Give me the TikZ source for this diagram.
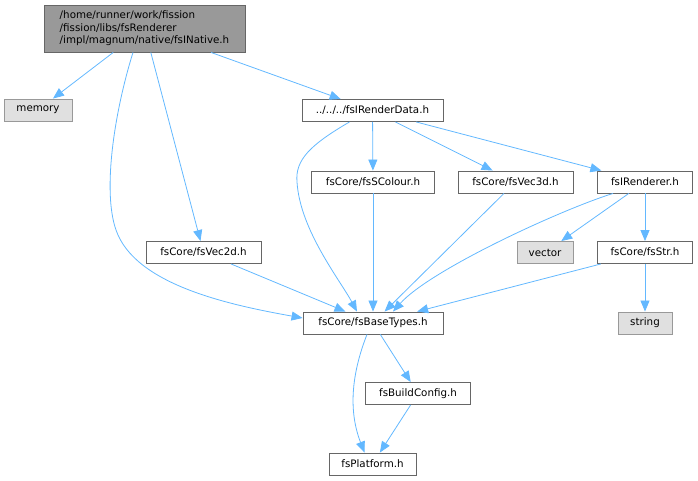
\documentclass[tikz,border=0pt]{standalone}
\usepackage{fontspec}
\setmainfont{DejaVu Sans}
\usepackage{tikz}
\usetikzlibrary{arrows.meta}
\definecolor{edgeblue}{HTML}{63B8FF}
\definecolor{boxgray}{HTML}{666666}
\definecolor{sysgray}{HTML}{999999}
\definecolor{sysfill}{HTML}{E0E0E0}

\begin{document}
\begin{tikzpicture}[x=1pt, y=-1pt,
    filebox/.style={draw=boxgray, fill=white, line width=0.9pt, minimum height=22pt, inner sep=0pt, font=\fontsize{10.3}{12.5}\selectfont},
    sysbox/.style={filebox, draw=sysgray, fill=sysfill},
    mainbox/.style={filebox, fill=sysgray, minimum height=47pt, align=left},
    incl/.style={draw=edgeblue, line width=0.8pt, -{Triangle[length=11pt,width=9pt]}}]
                \useasboundingbox (0,0) rectangle (698,481);

                % Top file
                \node[mainbox, minimum width=201pt] (native) at (144.5,28.5) {/home/runner/work/fission\\/fission/libs/fsRenderer\\/impl/magnum/native/fsINative.h};

                % Row 1
                \node[sysbox, minimum width=68pt] (memory) at (38,110) {memory};
                \node[filebox, minimum width=141pt] (rdata) at (372.5,110.5) {../../../fsIRenderData.h};

                % Row 2
                \node[filebox, minimum width=123pt] (scolour) at (373,182) {fsCore/fsSColour.h};
                \node[filebox, minimum width=115pt] (vecthree) at (515.5,182) {fsCore/fsVec3d.h};
                \node[filebox, minimum width=95pt] (irend) at (645,182) {fsIRenderer.h};

                % Row 3
                \node[filebox, minimum width=115pt] (vectwo) at (203.5,252.5) {fsCore/fsVec2d.h};
                \node[sysbox, minimum width=56pt] (vector) at (545,252.5) {vector};
                \node[filebox, minimum width=95pt] (fsstr) at (645,252.5) {fsCore/fsStr.h};

                % Row 4
                \node[filebox, minimum width=140pt] (basetypes) at (373,323) {fsCore/fsBaseTypes.h};
                \node[sysbox, minimum width=54pt] (string) at (645,323) {string};

                % Row 5 and 6
                \node[filebox, minimum width=105pt] (buildcfg) at (418,393.5) {fsBuildConfig.h};
                \node[filebox, minimum width=87pt] (platform) at (372.5,464) {fsPlatform.h};

                % Edges from the top file
                \draw[incl] (native) -- (memory);
                \draw[incl] (native) -- (vectwo);
                \draw[incl] (native) -- (rdata);
                \draw[incl] ([xshift=-11.5pt]native.south) .. controls (115,110) and (102,190) .. (116,230)
                    .. controls (135,285) and (230,305) .. ([yshift=5pt]basetypes.west);

                % Edges from fsIRenderData.h
                \draw[incl] ([xshift=-23pt]rdata.south) .. controls (310,145) and (295,160) .. (297,182)
                    .. controls (300,230) and (340,280) .. ([xshift=-16pt]basetypes.north);
                \draw[incl] (rdata) -- (scolour);
                \draw[incl] (rdata) -- (vecthree);
                \draw[incl] (rdata) -- (irend);

                % Edges into fsBaseTypes.h
                \draw[incl] (scolour) -- (basetypes);
                \draw[incl] (vecthree) -- (basetypes);
                \draw[incl] ([xshift=-32pt]irend.south) .. controls (560,210) and (430,270) .. ([xshift=20pt]basetypes.north);
                \draw[incl] (irend) -- (vector);
                \draw[incl] (irend) -- (fsstr);
                \draw[incl] (fsstr) -- (basetypes);
                \draw[incl] (fsstr) -- (string);
                \draw[incl] (vectwo) -- (basetypes);

                % Bottom part
                \draw[incl] (basetypes) -- (buildcfg);
                \draw[incl] (buildcfg) -- (platform);
                \draw[incl] ([xshift=-6pt]basetypes.south) .. controls (355,365) and (346,405) .. ([xshift=-8pt]platform.north);
            \end{tikzpicture}
\end{document}
